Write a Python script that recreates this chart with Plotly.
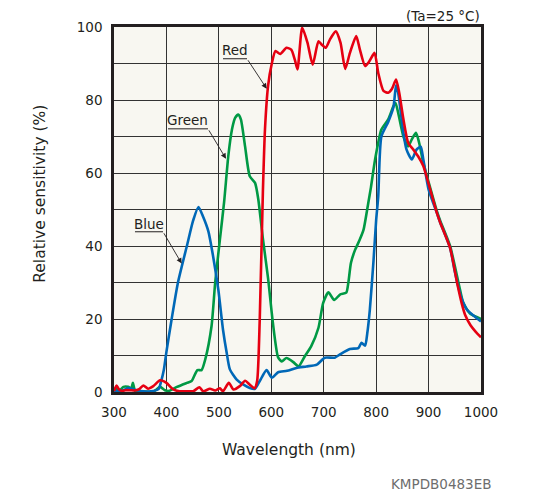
import plotly.graph_objects as go

# ---------------- data ----------------
blue_wl = [300, 310, 318, 327, 343, 356, 370, 385, 390, 395, 400, 410, 422, 439, 451, 461,
           470, 480, 489, 499, 508, 515, 521, 534, 547, 559, 569, 578, 591, 601, 613, 630,
           648, 667, 687, 702, 721, 731, 750, 766, 772, 779, 783, 788, 795, 800, 804, 810,
           823, 833, 838, 842, 852, 858, 868, 877, 885, 890, 900, 916, 922, 941, 950, 960,
           966, 973, 985, 1000]
blue_val = [0.3, 0.3, 0.5, 1.1, 0.5, 0.2, 0.2, 0.8, 3.0, 6.0, 11.0, 20.0, 30.0, 40.0, 47.0, 50.7,
            48.0, 44.0, 37.2, 28.0, 17.0, 10.7, 6.2, 3.4, 2.0, 1.1, 0.9, 3.0, 6.0, 3.9, 5.4, 5.8,
            6.6, 7.0, 7.5, 9.4, 9.4, 10.3, 11.8, 12.0, 13.5, 12.7, 16.0, 22.6, 36.0, 47.0, 53.6, 70.0,
            74.0, 78.0, 84.0, 82.0, 71.0, 66.4, 63.7, 66.4, 67.2, 63.7, 55.5, 49.0, 46.5, 39.5, 33.0, 27.0,
            24.5, 22.6, 21.0, 19.3]

red_wl = [300, 305, 309, 315, 322, 330, 340, 348, 356, 365, 375, 388, 400, 413, 425, 440,
          451, 463, 470, 483, 493, 502, 508, 519, 528, 540, 550, 559, 568, 573, 578, 584,
          588, 594, 601, 608, 617, 629, 638, 645, 650, 659, 669, 679, 690, 696, 704, 712,
          723, 732, 741, 750, 762, 769, 779, 787, 797, 804, 814, 823, 830, 838, 844, 852,
          861, 871, 880, 890, 903, 916, 922, 941, 955, 963, 970, 980, 990, 1000]
red_val = [0.3, 1.8, 0.8, 0.3, 0.5, 0.5, 0.4, 0.8, 1.8, 0.9, 1.6, 3.2, 2.5, 0.7, 0.2, 0.2,
           0.2, 1.3, 0.2, 0.9, 0.4, 1.0, 0.2, 2.5, 0.7, 1.6, 3.1, 2.0, 1.0, 3.0, 20.0, 55.0,
           72.0, 84.0, 90.0, 93.4, 92.6, 94.3, 93.8, 91.0, 88.4, 99.8, 95.7, 89.7, 96.1, 95.2, 94.3, 96.6,
           98.8, 95.7, 88.5, 92.9, 97.5, 93.8, 89.3, 90.6, 92.9, 87.4, 82.5, 82.0, 83.0, 85.6, 82.0, 74.7,
           68.3, 66.4, 64.6, 61.9, 55.5, 49.0, 46.5, 39.5, 29.5, 24.4, 21.0, 18.3, 16.5, 15.0]

green_wl = [300, 305, 312, 318, 327, 333, 336, 340, 345, 360, 375, 381, 388, 397, 405, 420,
            439, 448, 459, 467, 474, 486, 493, 502, 510, 518, 525, 531, 537, 542, 550, 559,
            569, 575, 584, 594, 603, 613, 620, 629, 642, 652, 664, 676, 690, 699, 709, 720,
            731, 743, 747, 752, 760, 768, 776, 785, 790, 798, 810, 823, 833, 837, 842, 852,
            861, 868, 876, 882, 890, 903, 916, 922, 941, 960, 966, 979, 1000]
green_val = [0.3, 0.8, 0.6, 1.4, 1.4, 1.0, 2.5, 0.3, 0.1, 0.1, 0.1, 0.7, 1.4, 0.5, 0.3, 1.4,
             2.5, 3.0, 6.0, 6.0, 8.9, 18.0, 30.0, 41.8, 52.0, 64.6, 71.9, 75.1, 76.0, 74.7, 67.3, 59.1,
             57.3, 53.0, 42.0, 31.0, 19.0, 9.5, 8.4, 9.3, 8.2, 7.0, 9.8, 12.5, 17.6, 24.4, 27.3, 25.2,
             26.7, 27.2, 30.0, 35.4, 39.0, 41.5, 44.5, 51.8, 56.0, 63.7, 71.9, 74.7, 78.3, 79.2, 76.5, 70.0,
             67.3, 69.2, 71.0, 68.3, 62.8, 56.0, 49.5, 47.0, 40.0, 28.0, 24.5, 21.5, 20.0]

x_ticks = [300, 400, 500, 600, 700, 800, 900, 1000]
y_ticks = [0, 20, 40, 60, 80, 100]

FONT = "DejaVu Sans"
RED, GREEN, BLUE = "#e60012", "#009944", "#0068b7"
INK = "#231f20"

fig = go.Figure()
for wl, val, col, name in [(green_wl, green_val, GREEN, "Green"),
                           (blue_wl, blue_val, BLUE, "Blue"),
                           (red_wl, red_val, RED, "Red")]:
    fig.add_trace(go.Scatter(x=wl, y=val, mode="lines", name=name,
                             line=dict(color=col, width=2.6, shape="spline", smoothing=0.6),
                             hoverinfo="skip"))

GRID = "#333333"
# page body has an 8px margin: figure is sized so the plot lands where the reference has it
fig.update_layout(
    width=526, height=486,
    margin=dict(l=106, r=53, t=19, b=102, pad=0),
    paper_bgcolor="white",
    plot_bgcolor="#f8f7f1",
    showlegend=False,
    font=dict(family=FONT, size=13, color=INK),
    xaxis=dict(range=[300, 1000], tickvals=x_ticks, ticktext=[str(v) for v in x_ticks],
               showgrid=True, gridcolor=GRID, gridwidth=1.1, zeroline=False,
               showline=True, linecolor=INK, linewidth=2.5, mirror=True,
               ticks="", ticklabelstandoff=6, tickfont=dict(size=13.5)),
    yaxis=dict(range=[0, 100], tickvals=y_ticks, ticktext=[str(v) for v in y_ticks],
               showgrid=True, gridcolor=GRID, gridwidth=1.1, zeroline=False,
               showline=True, linecolor=INK, linewidth=2.5, mirror=True,
               ticks="", ticklabelstandoff=6, tickfont=dict(size=13.5),
               minor=dict(dtick=10, showgrid=True, gridcolor=GRID, gridwidth=1.1)),
)

PW, PH = 367.0, 365.5  # plot area size in px
# axis titles and notes (paper coords relative to plot area)
fig.add_annotation(text="Wavelength (nm)", xref="paper", yref="paper",
                   x=(288.5 - 114) / PW, y=-(451 - 392.5) / PH,
                   showarrow=False, font=dict(size=15.5), xanchor="center", yanchor="middle")
fig.add_annotation(text="Relative sensitivity (%)", xref="paper", yref="paper",
                   x=-(114 - 40) / PW, y=(392.5 - 194) / PH, textangle=-90,
                   showarrow=False, font=dict(size=15.5), xanchor="center", yanchor="middle")
fig.add_annotation(text="(Ta=25 °C)", xref="paper", yref="paper",
                   x=1.0, y=(392.5 - 16) / PH, showarrow=False,
                   font=dict(size=13.5), xanchor="right", yanchor="middle", borderpad=0)
fig.add_annotation(text="KMPDB0483EB", xref="paper", yref="paper",
                   x=(493 - 114) / PW, y=-(484.5 - 392.5) / PH, showarrow=False,
                   font=dict(size=13.5, color="#6d6d6d"), xanchor="right", yanchor="middle")

# curve labels with underline + leader arrow
labels = [
    ("Red", 531.7, 93.6, (507.9, 553.7, 91.3), (591.3, 83.1)),
    ("Green", 441.1, 74.5, (403.0, 479.3, 72.1), (513.6, 63.9)),
    ("Blue", 366.8, 45.9, (340.0, 393.5, 43.9), (429.1, 35.2)),
]
for text, tx, ty, (ux0, ux1, uy), (hx, hy) in labels:
    fig.add_annotation(text=text, x=tx, y=ty, xref="x", yref="y", showarrow=False,
                       font=dict(size=13.5), xanchor="center", yanchor="middle")
    fig.add_shape(type="line", x0=ux0, x1=ux1, y0=uy, y1=uy, xref="x", yref="y",
                  line=dict(color=INK, width=1))
    fig.add_annotation(x=hx, y=hy, ax=ux1, ay=uy, xref="x", yref="y", axref="x", ayref="y",
                       text="", showarrow=True, arrowhead=2, arrowsize=1.2, arrowwidth=0.9,
                       arrowcolor=INK)

fig.write_html("out.html")
